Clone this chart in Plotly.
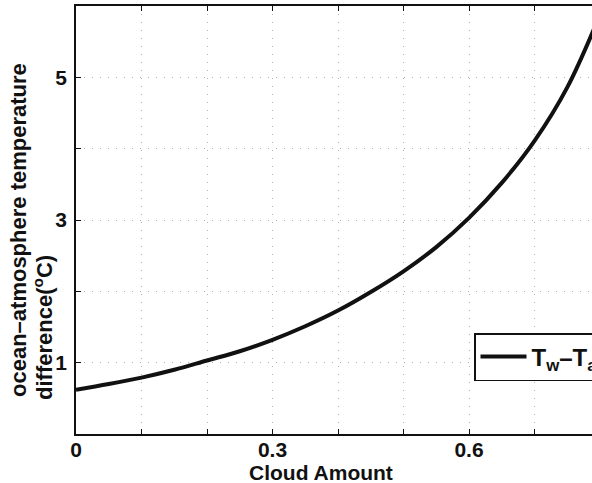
import plotly.graph_objects as go

# Ocean-atmosphere temperature difference as a function of cloud amount
cloud_amount = [0.00, 0.05, 0.10, 0.15, 0.20, 0.25, 0.30, 0.35, 0.40, 0.45,
                0.50, 0.55, 0.60, 0.65, 0.70, 0.75, 0.80]
temp_diff = [0.62, 0.70, 0.79, 0.90, 1.03, 1.16, 1.32, 1.51, 1.73, 1.99,
             2.28, 2.62, 3.03, 3.52, 4.11, 4.86, 5.88]

x_ticks = [0.0, 0.1, 0.2, 0.3, 0.4, 0.5, 0.6, 0.7]
x_tick_text = ["0", "", "", "0.3", "", "", "0.6", ""]
y_ticks = [0, 1, 2, 3, 4, 5, 6]
y_tick_text = ["", "1", "", "3", "", "5", ""]

W, H = 592, 483
L, R, T, B = 76, 0, 6, 49
plot_w = W - L - R
plot_h = H - T - B


def px(xp):
    return (xp - L) / plot_w


def py(yp):
    return (H - B - yp) / plot_h


FONT = "Liberation Sans, Arial, Helvetica, sans-serif"

fig = go.Figure()
fig.add_trace(go.Scatter(
    x=cloud_amount, y=temp_diff, mode="lines",
    line=dict(color="#111111", width=4, shape="spline", smoothing=1.0),
    name="T<sub>w</sub>\u2013T<sub>a</sub>",
))

axis_common = dict(
    showline=True, linecolor="#111111", linewidth=1.5,
    ticks="inside", ticklen=5, tickwidth=1, tickcolor="#111111",
    showgrid=True, gridcolor="#b0b0b0", gridwidth=1, griddash="1px,7px",
    zeroline=False,
    tickfont=dict(family=FONT, size=21, color="#111111", weight="bold"),
)

fig.update_xaxes(
    range=[0, plot_w / 655.0], tickmode="array",
    tickvals=x_ticks, ticktext=x_tick_text, mirror="ticks",
    ticklabelstandoff=-4,
    **axis_common,
)
fig.update_yaxes(
    range=[0, 6], tickmode="array",
    tickvals=y_ticks, ticktext=y_tick_text, mirror=False,
    ticklabelstandoff=3,
    **axis_common,
)

fig.update_layout(
    width=W, height=H,
    margin=dict(l=L, r=R, t=T, b=B, pad=0, autoexpand=False),
    paper_bgcolor="white", plot_bgcolor="white",
    showlegend=True,
    legend=dict(
        x=px(474), y=py(333), xanchor="left", yanchor="top",
        bordercolor="#111111", borderwidth=1.5, bgcolor="white",
        font=dict(family=FONT, size=24, color="#111111", weight="bold"),
        itemwidth=46,
    ),
    annotations=[
        dict(text="Cloud Amount", xref="paper", yref="paper",
             x=px(321), y=py(472), xanchor="center", yanchor="middle",
             showarrow=False,
             font=dict(family=FONT, size=21, color="#111111", weight="bold")),
        dict(text="ocean\u2013atmosphere temperature", xref="paper", yref="paper",
             x=px(18), y=py(230), xanchor="center", yanchor="middle",
             textangle=-90, showarrow=False,
             font=dict(family=FONT, size=22, color="#111111", weight="bold")),
        dict(text="difference(<sup>o</sup>C)", xref="paper", yref="paper",
             x=px(43), y=py(328), xanchor="center", yanchor="middle",
             textangle=-90, showarrow=False,
             font=dict(family=FONT, size=22, color="#111111", weight="bold")),
    ],
)

fig.write_html("out.html")
